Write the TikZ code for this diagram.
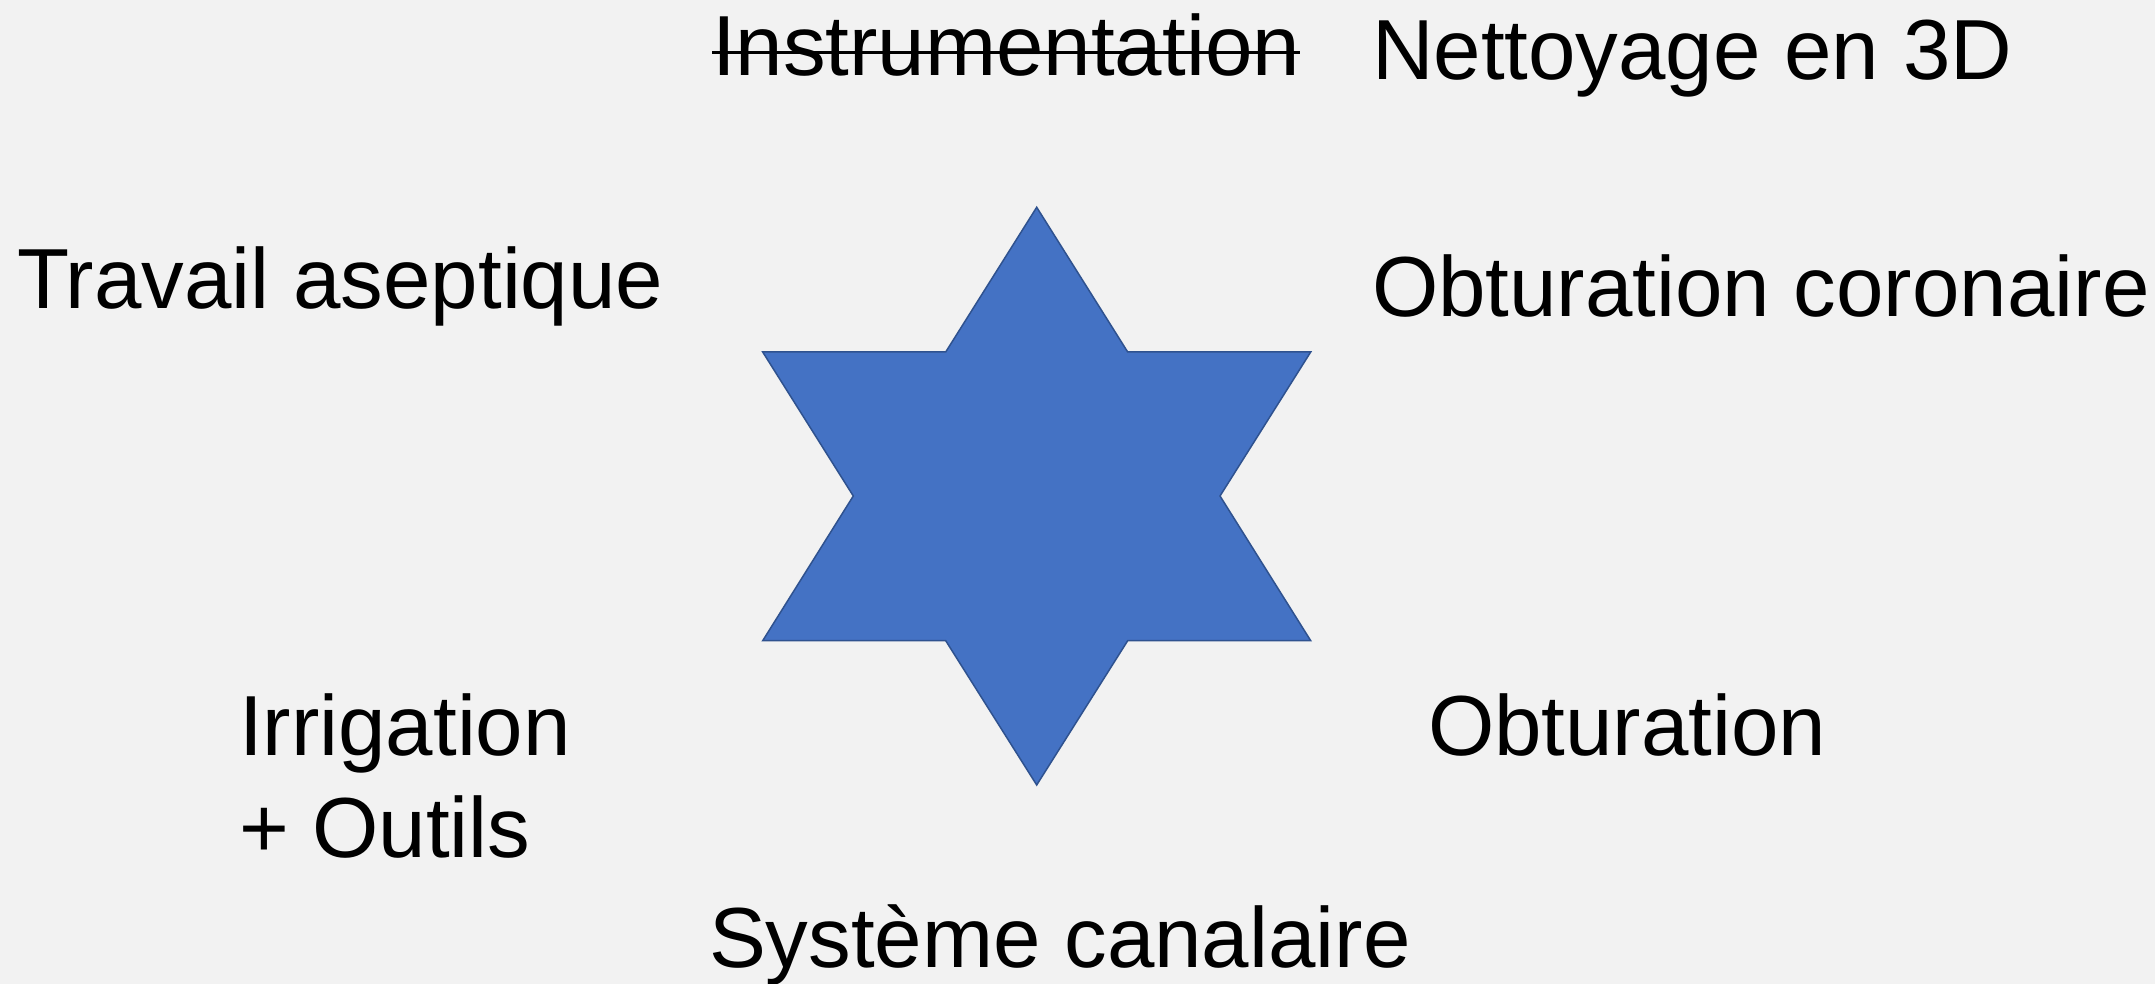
\documentclass[tikz,border=0pt]{standalone}
\usepackage{fontspec}
\setmainfont{Liberation Sans}
\usetikzlibrary{calc}
\definecolor{bg}{HTML}{F2F2F2}
\definecolor{starfill}{HTML}{4472C4}
\definecolor{starline}{HTML}{2F528F}
\begin{document}
\begin{tikzpicture}[x=1pt,y=1pt,
  lbl/.style={anchor=base west,inner sep=0pt,outer sep=0pt,font=\fontsize{85.3}{99}\selectfont,text=black},
  starshape/.style={fill=starfill,draw=starline,line width=1.5pt,line join=miter}]
\fill[bg] (0,0) rectangle (2155,984);
\useasboundingbox (0,0) rectangle (2155,984);
% star
\coordinate (s1) at (1036.7,776.7);
\coordinate (s2) at (1127.7,632);
\coordinate (s3) at (1310.7,632);
\coordinate (s4) at (1220,488);
\coordinate (s5) at (1310.7,343.3);
\coordinate (s6) at (1127.7,343.3);
\coordinate (s7) at (1036.7,199);
\coordinate (s8) at (945.7,343.3);
\coordinate (s9) at (762.7,343.3);
\coordinate (s10) at (853.3,488);
\coordinate (s11) at (762.7,632);
\coordinate (s12) at (945.7,632);
\draw[starshape] (s1) -- (s2) -- (s3) -- (s4) -- (s5) -- (s6) -- (s7) -- (s8) -- (s9) -- (s10) -- (s11) -- (s12) -- cycle;
% labels
\node[lbl] (instr) at (712,908.4) {Instrumentation};
\draw[line width=2.5pt] ($(instr.base west)+(0,23)$) -- ($(instr.base east)+(0,23)$);
\node[lbl] (nett) at (1372,904.5) {Nettoyage en 3D};
\node[lbl] (trav) at (17,675) {Travail aseptique};
\node[lbl] (obtc) at (1372,667) {Obturation coronaire};
\node[lbl] (irr) at (239,228) {Irrigation};
\node[lbl] (out) at (239,126) {+ Outils};
\node[lbl] (obt) at (1428,228) {Obturation};
\node[lbl] (sys) at (709,16.5) {Système canalaire};
\end{tikzpicture}
\end{document}
